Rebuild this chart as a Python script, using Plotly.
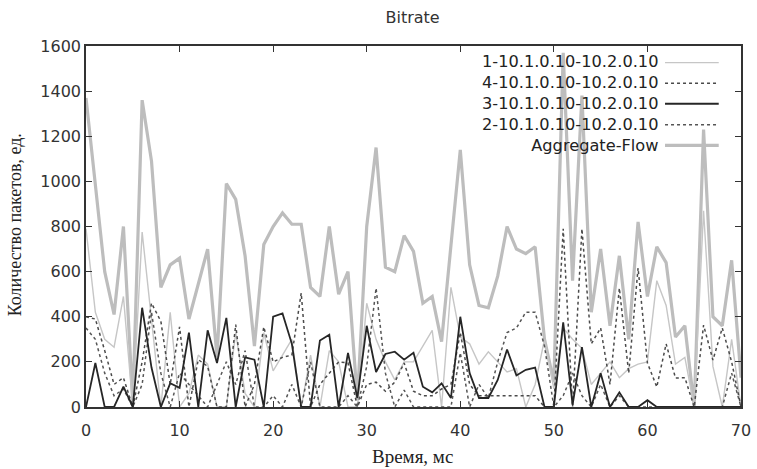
import plotly.graph_objects as go

# Time axis, ms
time_ms = list(range(0, 71))

# Packet counts per flow
flow_1 = [790, 420, 300, 265, 490, 0, 775, 380, 0, 420, 0, 60, 230, 190, 0, 0, 330, 60, 0, 330,
          160, 230, 300, 0, 230, 0, 250, 200, 0, 0, 460, 300, 200, 120, 200, 200, 270, 340, 0, 530,
          310, 280, 190, 245, 200, 155, 170, 0, 100, 300, 80, 350, 300, 260, 100, 150, 200, 130, 170, 190,
          200, 560, 450, 190, 220, 0, 870, 180, 0, 300, 0]
flow_4 = [400, 390, 250, 100, 130, 0, 200, 460, 380, 100, 355, 0, 210, 180, 0, 0, 365, 0, 100, 355,
          200, 220, 230, 505, 0, 100, 150, 200, 195, 0, 100, 110, 70, 110, 195, 70, 50, 50, 80, 100,
          330, 100, 50, 50, 50, 50, 50, 50, 50, 0, 0, 790, 0, 790, 280, 350, 100, 527, 150, 616,
          195, 89, 280, 128, 130, 0, 363, 208, 350, 200, 0]
flow_3 = [0, 195, 0, 0, 90, 0, 440, 175, 0, 105, 85, 330, 0, 340, 195, 395, 0, 220, 210, 0,
          400, 415, 280, 0, 0, 295, 320, 0, 240, 40, 360, 155, 235, 245, 210, 240, 90, 65, 105, 40,
          400, 150, 40, 40, 120, 255, 140, 165, 175, 0, 0, 375, 10, 265, 0, 150, 0, 65, 0, 0,
          30, 0, 0, 0, 0, 0, 0, 0, 0, 0, 0]
flow_2 = [350, 300, 150, 50, 80, 0, 100, 420, 150, 0, 150, 100, 50, 0, 100, 200, 100, 250, 0, 0,
          50, 0, 100, 0, 200, 0, 0, 0, 50, 0, 180, 527, 150, 0, 75, 0, 0, 0, 0, 0,
          240, 0, 100, 40, 200, 330, 350, 420, 420, 270, 0, 50, 150, 50, 0, 100, 0, 50, 0, 0,
          0, 0, 0, 0, 0, 0, 0, 0, 0, 150, 0]
aggregate = [1370, 1000, 600, 410, 800, 20, 1360, 1090, 530, 630, 660, 390, 540, 700, 220, 990, 920, 670, 270, 720,
             800, 860, 810, 810, 530, 490, 800, 500, 600, 30, 800, 1150, 620, 600, 760, 690, 460, 490, 290, 710,
             1140, 630, 450, 440, 580, 800, 700, 680, 710, 300, 110, 1570, 560, 1380, 420, 700, 360, 670, 300, 820,
             490, 710, 640, 310, 360, 0, 1230, 400, 360, 650, 130]

series_names = ["1-10.1.0.10-10.2.0.10", "4-10.1.0.10-10.2.0.10", "3-10.1.0.10-10.2.0.10",
                "2-10.1.0.10-10.2.0.10", "Aggregate-Flow"]
x_ticks = [0, 10, 20, 30, 40, 50, 60, 70]
y_ticks = [0, 200, 400, 600, 800, 1000, 1200, 1400, 1600]

styles = [
    dict(color="#c6c6c6", width=1.4, dash="solid"),
    dict(color="#4a4a4a", width=1.5, dash="dot"),
    dict(color="#262626", width=1.8, dash="solid"),
    dict(color="#555555", width=1.5, dash="dot"),
    dict(color="#bdbdbd", width=3.2, dash="solid"),
]
values = [flow_1, flow_4, flow_3, flow_2, aggregate]

fig = go.Figure()
# draw order: aggregate first so flows sit above it
for idx in [4, 0, 3, 1, 2]:
    fig.add_trace(go.Scatter(x=time_ms, y=values[idx], mode="lines", name=series_names[idx],
                             line=styles[idx], showlegend=False, hoverinfo="x+y+name"))

# gnuplot-style key: right-aligned labels in one block, line samples to the right
fig.add_annotation(x=0.876, y=0.842, xref="paper", yref="paper", text="<br>".join(series_names),
                   showarrow=False, xanchor="right", yanchor="middle", align="right",
                   font=dict(family="DejaVu Sans", size=16.2, color="#222222"))
key_rows = [0.954, 0.897, 0.840, 0.782, 0.725]
for st, ky in zip(styles, key_rows):
    fig.add_shape(type="line", xref="paper", yref="paper", x0=0.884, x1=0.966, y0=ky, y1=ky,
                  line=dict(color=st["color"], width=st["width"], dash=st["dash"]))

axis_common = dict(showgrid=False, zeroline=False, showline=True, linecolor="#333333", linewidth=1.5,
                   mirror="ticks", ticks="inside", ticklen=6, tickwidth=1.3, tickcolor="#333333",
                   automargin=False,
                   tickfont=dict(family="DejaVu Sans", size=16, color="#333333"))

fig.update_xaxes(range=[0, 70], tickvals=x_ticks, ticktext=[str(v) for v in x_ticks],
                 ticklabelstandoff=8, **axis_common)
fig.update_yaxes(range=[0, 1600], tickvals=y_ticks, ticktext=[str(v) for v in y_ticks],
                 **axis_common)

# axis titles
fig.add_annotation(x=0.499, y=-0.138, xref="paper", yref="paper", text="Время, мс", showarrow=False,
                   xanchor="center", yanchor="middle",
                   font=dict(family="Liberation Serif", size=19, color="#222222"))
fig.add_annotation(x=-0.108, y=0.504, xref="paper", yref="paper", text="Количество пакетов, ед.",
                   showarrow=False, textangle=-90, xanchor="center", yanchor="middle",
                   font=dict(family="Liberation Serif", size=18, color="#222222"))

fig.update_layout(
    width=757, height=469,
    margin=dict(l=86, r=16, t=46, b=62, autoexpand=False),
    paper_bgcolor="white", plot_bgcolor="white",
    title=dict(text="Bitrate", x=0.545, xanchor="center", y=0.963, yanchor="middle",
               font=dict(family="DejaVu Sans", size=16, color="#333333")),
)

fig.write_html("out.html")
